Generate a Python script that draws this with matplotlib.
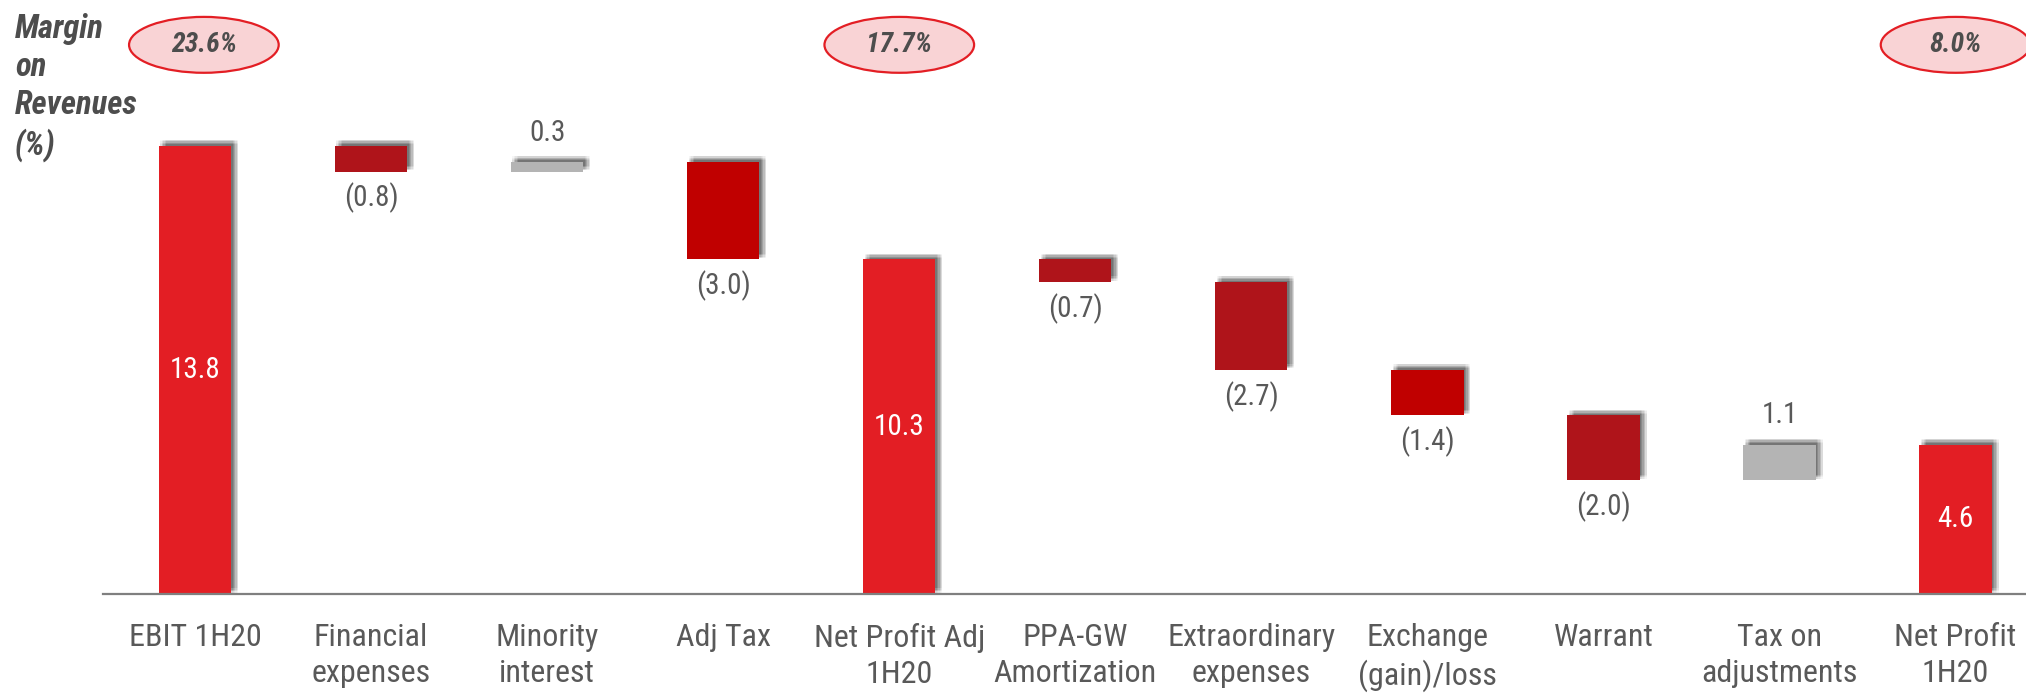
import matplotlib
matplotlib.use("Agg")
import matplotlib.pyplot as plt
from matplotlib import font_manager as fm
from matplotlib.patches import Ellipse
import matplotlib.patheffects as pe

# ---------------- data ----------------
categories = ["EBIT 1H20", "Financial\nexpenses", "Minority\ninterest", "Adj Tax",
              "Net Profit Adj\n1H20", "PPA-GW\nAmortization", "Extraordinary\nexpenses",
              "Exchange\n(gain)/loss", "Warrant", "Tax on\nadjustments", "Net Profit\n1H20"]
values = [13.8, -0.8, 0.3, -3.0, 10.3, -0.7, -2.7, -1.4, -2.0, 1.1, 4.6]
is_total = [True, False, False, False, True, False, False, False, False, False, True]
value_labels = ["13.8", "(0.8)", "0.3", "(3.0)", "10.3", "(0.7)", "(2.7)",
                "(1.4)", "(2.0)", "1.1", "4.6"]
bar_colors = ["#E31E24", "#AF141A", "#B4B4B4", "#C00000", "#E31E24", "#AF141A",
              "#AF141A", "#C00000", "#AF141A", "#B4B4B4", "#E31E24"]
margin_idx = [0, 4, 10]
margin_labels = ["23.6%", "17.7%", "8.0%"]

# ---------------- fonts ----------------
avail = {f.name for f in fm.fontManager.ttflist}
family = "DejaVu Sans"
for cand in ["Roboto Condensed", "Liberation Sans Narrow", "Roboto"]:
    if cand in avail:
        family = cand
        break
plt.rcParams["font.family"] = [family, "DejaVu Sans"]

TXT = "#595959"

fig = plt.figure(figsize=(20.26, 6.93), dpi=100)
ax = fig.add_axes([103 / 2026, 99 / 693, 1923 / 2026, 594 / 693])

# waterfall geometry
bottoms, heights = [], []
running = 0.0
for v, t in zip(values, is_total):
    if t:
        bottoms.append(0.0)
        heights.append(v)
        running = v
    else:
        if v >= 0:
            bottoms.append(running)
        else:
            bottoms.append(running + v)
        heights.append(abs(v))
        running += v

x = list(range(len(categories)))

shadow = []
for dx in (1.0, 2.0, 3.0, 4.0, 5.0):
    for dy in (1.0, 2.0, 3.0, 4.0):
        shadow.append(pe.SimplePatchShadow(offset=(dx, dy), shadow_rgbFace="black", alpha=0.035))
shadow.append(pe.Normal())

bars = ax.bar(x, heights, bottom=bottoms, width=0.41, color=bar_colors, zorder=3)
for b in bars:
    b.set_path_effects(shadow)

fs_val = 21
for i in x:
    top = bottoms[i] + heights[i]
    if is_total[i]:
        ax.text(i, bottoms[i] + heights[i] / 2, value_labels[i], ha="center", va="center",
                color="white", fontsize=fs_val, zorder=5)
    elif values[i] < 0:
        ax.annotate(value_labels[i], (i, bottoms[i]), xytext=(0, -8), textcoords="offset points",
                    ha="center", va="top", color=TXT, fontsize=fs_val, zorder=5)
    else:
        ax.annotate(value_labels[i], (i, top), xytext=(0, 11), textcoords="offset points",
                    ha="center", va="bottom", color=TXT, fontsize=fs_val, zorder=5)

# margin ellipses
for idx, lab in zip(margin_idx, margin_labels):
    cx = idx + (0.05 if idx == 0 else 0.0)
    e = Ellipse((cx, 16.9), width=0.85, height=1.72, facecolor="#F9D3D5",
                edgecolor="#E31E24", linewidth=1.6, clip_on=False, zorder=4)
    ax.add_patch(e)
    ax.text(cx, 16.9, lab, ha="center", va="center", color="#4D4D4D", fontsize=20,
            fontweight="bold", fontstyle="italic", zorder=5, clip_on=False)

fig.text(15 / 2026, 1 - 13 / 693, "Margin\non\nRevenues\n(%)", ha="left", va="top",
         color="#4D4D4D", fontsize=23.5, fontweight="bold", fontstyle="italic", linespacing=1.25)

ax.set_xlim(-0.523, 10.40)
ax.set_ylim(0, 18.28)
ax.set_xticks(x)
ax.set_xticklabels(categories, fontsize=23, color=TXT, linespacing=1.3)
ax.tick_params(axis="x", length=0, pad=21)
ax.set_yticks([])
for s in ["top", "right", "left"]:
    ax.spines[s].set_visible(False)
ax.spines["bottom"].set_color("#7F7F7F")
ax.spines["bottom"].set_linewidth(1.6)
ax.spines["bottom"].set_zorder(6)
ax.patch.set_alpha(0)

fig.savefig("out.png", dpi=100)
